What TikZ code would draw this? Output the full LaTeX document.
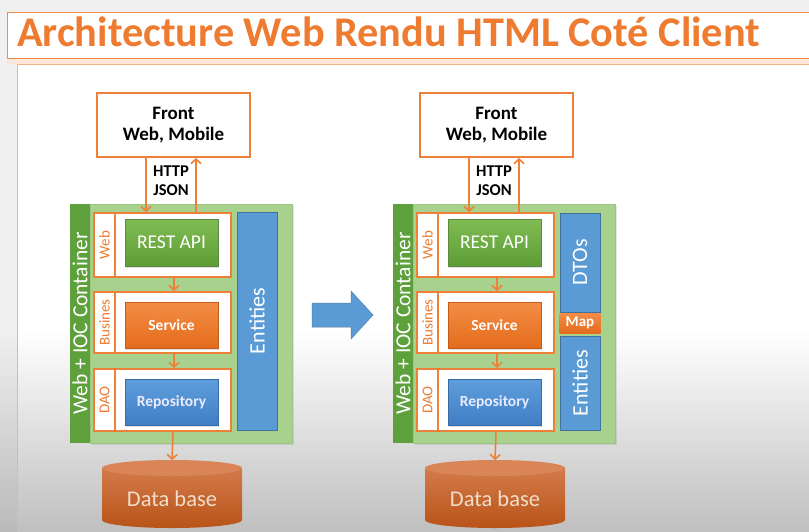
\documentclass[tikz,border=0pt]{standalone}
\usepackage{fontspec}
\setmainfont{Carlito}
\usetikzlibrary{arrows.meta,shadows}
\definecolor{orT}{HTML}{EE7B30}
\definecolor{orB}{HTML}{EF8037}
\definecolor{frameB}{HTML}{EFB390}
\definecolor{lgreen}{HTML}{A9D18E}
\definecolor{lgreenB}{HTML}{9CC67F}
\definecolor{dgreen}{HTML}{5EA03C}
\definecolor{restT}{HTML}{7FBC53}
\definecolor{restB}{HTML}{5E9C36}
\definecolor{servT}{HTML}{F38D45}
\definecolor{servB}{HTML}{E46C1C}
\definecolor{repoT}{HTML}{5F9EDC}
\definecolor{repoB}{HTML}{3F7EC4}
\definecolor{entF}{HTML}{5B9BD5}
\definecolor{entB}{HTML}{41719C}
\definecolor{dbT}{HTML}{D98557}
\definecolor{dbB}{HTML}{B95318}
\definecolor{dbTxt}{HTML}{F2DCCB}
\definecolor{barrow}{HTML}{5B9BD5}
\tikzset{
  frontbox/.style={draw=orB, line width=2pt, fill=white, align=center,
    font=\fontsize{19}{22}\selectfont\bfseries, inner sep=0pt},
  layerbox/.style={draw=orB, line width=2pt, fill=white, inner sep=0pt},
  layertxt/.style={rotate=90, text=orT, font=\fontsize{15}{15}\selectfont},
  cont/.style={fill=lgreen, draw=lgreenB, line width=0.6pt, inner sep=0pt,
    drop shadow={opacity=0.2, shadow xshift=1.5pt, shadow yshift=-1.5pt}},
  contbar/.style={fill=dgreen, draw=none, inner sep=0pt},
  bartxt/.style={rotate=90, text=white, font=\fontsize{21.5}{21.5}\selectfont},
  restbox/.style={top color=restT, bottom color=restB, draw=restB!80!black!90, line width=0.4pt,
    text=white, font=\fontsize{19.5}{19.5}\selectfont, inner sep=0pt,
    drop shadow={opacity=0.25, shadow xshift=1pt, shadow yshift=-1.5pt}},
  servbox/.style={top color=servT, bottom color=servB, draw=servB!85!black, line width=0.4pt,
    text=white, font=\fontsize{15.5}{15.5}\selectfont\bfseries, inner sep=0pt,
    drop shadow={opacity=0.25, shadow xshift=1pt, shadow yshift=-1.5pt}},
  repobox/.style={top color=repoT, bottom color=repoB, draw=repoB!85!black, line width=0.4pt,
    text=white!92!blue, font=\fontsize{15.5}{15.5}\selectfont\bfseries, inner sep=0pt,
    drop shadow={opacity=0.25, shadow xshift=1pt, shadow yshift=-1.5pt}},
  entbox/.style={fill=entF, draw=entB, line width=0.6pt, inner sep=0pt},
  enttxt/.style={rotate=90, text=white, font=\fontsize{22}{22}\selectfont},
  mapbox/.style={top color=servT, bottom color=servB, draw=none, text=white,
    font=\fontsize{15}{15}\selectfont\bfseries, inner sep=0pt},
  arr/.style={draw=orB, line width=1.6pt, -{Straight Barb[length=4.5pt,width=10pt,line width=1.6pt]}},
  lbl/.style={font=\fontsize{16.5}{19}\selectfont\bfseries, align=center}
}
\newcommand\archpart[1]{%
  \node[frontbox, minimum width=153pt, minimum height=64pt] (#1front) at (173.5,125) {Front\\[-1pt]Web, Mobile};
  \node[cont, minimum width=202pt, minimum height=239pt] (#1cont) at (191,323.5) {};
  \node[contbar, minimum width=20pt, minimum height=239pt] (#1bar) at (80,323.5) {};
  \node[bartxt] (#1bartxt) at (#1bar) {Web + IOC Container};
  % Web layer
  \node[layerbox, minimum width=21pt, minimum height=64pt] (#1webL) at (104.5,245) {};
  \node[layerbox, minimum width=116pt, minimum height=64pt] (#1webR) at (173,245) {};
  \node[layertxt] (#1webT) at (#1webL) {Web};
  \node[restbox, minimum width=93pt, minimum height=47pt] (#1rest) at (171.5,242.5) {REST API};
  % Business layer
  \node[layerbox, minimum width=21pt, minimum height=61pt] (#1busL) at (104.5,322.5) {};
  \node[layerbox, minimum width=116pt, minimum height=61pt] (#1busR) at (173,322.5) {};
  \node[layertxt] (#1busT) at (#1busL) {Busines};
  \node[servbox, minimum width=93pt, minimum height=46pt] (#1serv) at (171.5,325) {Service};
  % DAO layer
  \node[layerbox, minimum width=21pt, minimum height=62pt] (#1daoL) at (104.5,400) {};
  \node[layerbox, minimum width=116pt, minimum height=62pt] (#1daoR) at (173,400) {};
  \node[layertxt] (#1daoT) at (#1daoL) {DAO};
  \node[repobox, minimum width=93pt, minimum height=46pt] (#1repo) at (171.5,402) {Repository};
  % arrows
  \draw[arr] ([xshift=-27.5pt]#1front.south) -- ([xshift=-27pt]#1webR.north);
  \draw[arr] ([xshift=23pt]#1webR.north) -- ([xshift=22.5pt]#1front.south);
  \node[lbl] (#1http) at (171,180.5) {HTTP\\JSON};
  \draw[arr] ([xshift=1pt]#1webR.south) -- ([xshift=1pt]#1busR.north);
  \draw[arr] ([xshift=1pt]#1busR.south) -- ([xshift=1pt]#1daoR.north);
  % database
  \shade[top color=dbT!80!dbB, bottom color=dbB]
    (102,468) -- (102,520) arc[start angle=180, end angle=0, x radius=70, y radius=8]
    -- (242,468) -- cycle;
  \fill[dbT] (172,468) ellipse[x radius=70, y radius=8];
  \coordinate (#1dbtop) at (172,460);
  \node[text=dbTxt, font=\fontsize{22.5}{22.5}\selectfont] (#1db) at (172,499) {Data base};
  \draw[arr] (#1daoR.south) -- (#1dbtop);
}
\begin{document}
\begin{tikzpicture}[x=1pt,y=-1pt]
\useasboundingbox (0,0) rectangle (809,531);
% page background
\fill[black!6] (0,0) rectangle (809,531);
\shade[top color=black!6, bottom color=black!27] (0,330) rectangle (809,531);
% slide frame
\fill[white] (17,64) rectangle (830,330);
\shade[top color=white, bottom color=black!26] (17,330) rectangle (830,540);
\draw[frameB, line width=0.8pt] (830,64) -- (17,64) -- (17,540);
% title
\fill[orT!18] (7,58) rectangle (830,64);
\draw[orB!90, line width=0.8pt, fill=white] (830,12) -- (7,12) -- (7,58) -- (830,58);
\node[anchor=base west, text=orT, font=\fontsize{42.3}{42.3}\selectfont\bfseries, inner sep=0pt] (title) at (17,46) {Architecture Web Rendu HTML Coté Client};
% left diagram
\archpart{L}
\node[entbox, minimum width=40pt, minimum height=218pt] (Lent) at (257,321) {};
\node[enttxt] (Lenttxt) at (Lent) {Entities};
% transition arrow
\draw[fill=barrow, draw=entB!90, line width=0.5pt]
  (312,303) -- (351,303) -- (351,291) -- (373,315) -- (351,339) -- (351,327) -- (312,327) -- cycle;
% right diagram
\begin{scope}[xshift=323pt]
\archpart{R}
\node[entbox, minimum width=40pt, minimum height=99pt] (Rdto) at (257,262.5) {};
\node[enttxt] (Rdtotxt) at (Rdto) {DTOs};
\node[mapbox, minimum width=41pt, minimum height=20pt] (Rmap) at (257,323) {Map};
\node[entbox, minimum width=40pt, minimum height=94pt] (Rent) at (257,383) {};
\node[enttxt] (Renttxt) at (Rent) {Entities};
\end{scope}
\end{tikzpicture}
\end{document}
